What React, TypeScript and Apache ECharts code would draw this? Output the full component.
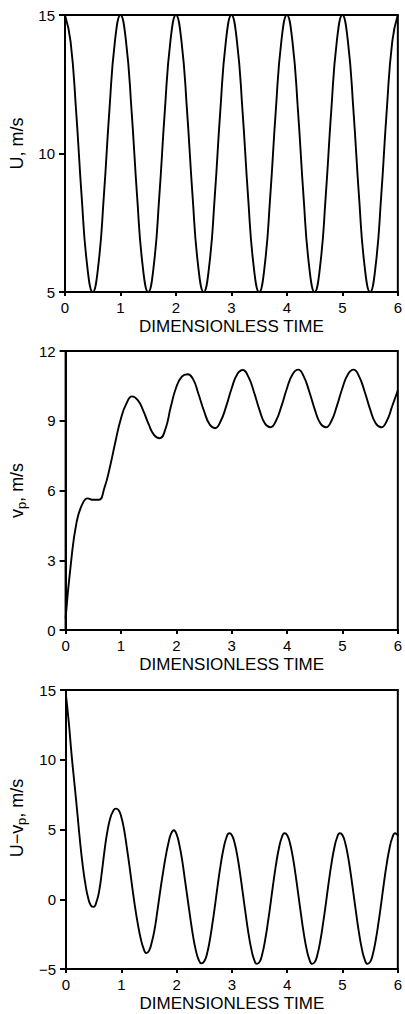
import React, { useEffect, useRef } from "react";
import * as echarts from "echarts";

// ---- data ----
const TIME_TICKS = [0, 1, 2, 3, 4, 5, 6];
const U_TICKS = [5, 10, 15];
const VP_TICKS = [0, 3, 6, 9, 12];
const DIFF_TICKS = [-5, 0, 5, 10, 15];

const TIME_COARSE = [
  0, 0.1, 0.2, 0.3, 0.4, 0.5, 0.6, 0.7, 0.8, 0.9,
  1, 1.1, 1.2, 1.3, 1.4, 1.5, 1.6, 1.7, 1.8, 1.9,
  2, 2.1, 2.2, 2.3, 2.4, 2.5, 2.6, 2.7, 2.8, 2.9,
  3, 3.1, 3.2, 3.3, 3.4, 3.5, 3.6, 3.7, 3.8, 3.9,
  4, 4.1, 4.2, 4.3, 4.4, 4.5, 4.6, 4.7, 4.8, 4.9,
  5, 5.1, 5.2, 5.3, 5.4, 5.5, 5.6, 5.7, 5.8, 5.9,
  6,
];

const TIME_FINE = [
  0, 0.05, 0.1, 0.15, 0.2, 0.25, 0.3, 0.35, 0.4, 0.45,
  0.5, 0.55, 0.6, 0.65, 0.7, 0.75, 0.8, 0.85, 0.9, 0.95,
  1, 1.05, 1.1, 1.15, 1.2, 1.25, 1.3, 1.35, 1.4, 1.45,
  1.5, 1.55, 1.6, 1.65, 1.7, 1.75, 1.8, 1.85, 1.9, 1.95,
  2, 2.05, 2.1, 2.15, 2.2, 2.25, 2.3, 2.35, 2.4, 2.45,
  2.5, 2.55, 2.6, 2.65, 2.7, 2.75, 2.8, 2.85, 2.9, 2.95,
  3, 3.05, 3.1, 3.15, 3.2, 3.25, 3.3, 3.35, 3.4, 3.45,
  3.5, 3.55, 3.6, 3.65, 3.7, 3.75, 3.8, 3.85, 3.9, 3.95,
  4, 4.05, 4.1, 4.15, 4.2, 4.25, 4.3, 4.35, 4.4, 4.45,
  4.5, 4.55, 4.6, 4.65, 4.7, 4.75, 4.8, 4.85, 4.9, 4.95,
  5, 5.05, 5.1, 5.15, 5.2, 5.25, 5.3, 5.35, 5.4, 5.45,
  5.5, 5.55, 5.6, 5.65, 5.7, 5.75, 5.8, 5.85, 5.9, 5.95,
  6,
];

// U, m/s (on TIME_COARSE)
const U_VALUES = [
  15, 14.05, 11.55, 8.45, 5.95, 5, 5.95, 8.45, 11.55, 14.05,
  15, 14.05, 11.55, 8.45, 5.95, 5, 5.95, 8.45, 11.55, 14.05,
  15, 14.05, 11.55, 8.45, 5.95, 5, 5.95, 8.45, 11.55, 14.05,
  15, 14.05, 11.55, 8.45, 5.95, 5, 5.95, 8.45, 11.55, 14.05,
  15, 14.05, 11.55, 8.45, 5.95, 5, 5.95, 8.45, 11.55, 14.05,
  15, 14.05, 11.55, 8.45, 5.95, 5, 5.95, 8.45, 11.55, 14.05,
  15,
];

// vp, m/s (on TIME_COARSE)
const VP_VALUES = [
  0.5, 2.95, 4.65, 5.4, 5.66, 5.6, 5.6, 6.1, 7.0, 8.1,
  9.1, 9.75, 10.05, 9.9, 9.45, 8.85, 8.38, 8.25, 8.62, 9.6,
  10.45, 10.9, 11.0, 10.8, 10.15, 9.42, 8.85, 8.68, 8.98, 9.62,
  10.4, 11.0, 11.18, 10.9, 10.25, 9.48, 8.88, 8.72, 9.0, 9.64,
  10.41, 11.0, 11.2, 10.91, 10.26, 9.49, 8.89, 8.72, 8.99, 9.64,
  10.41, 11.0, 11.2, 10.91, 10.26, 9.49, 8.89, 8.72, 8.99, 9.64,
  10.3,
];

// U - vp, m/s (on TIME_FINE)
const DIFF_VALUES = [
  14.6, 12.7, 10.4, 8.4, 6.4, 4.3, 2.5, 1.1, 0.1, -0.45,
  -0.55, -0.2, 0.6, 2.0, 3.6, 4.9, 5.8, 6.3, 6.5, 6.4,
  5.9, 5.0, 3.7, 2.3, 0.8, -0.6, -1.8, -2.8, -3.5, -3.85,
  -3.7, -3.1, -2.2, -0.9, 0.5, 1.8, 3.0, 4.0, 4.7, 4.95,
  4.65, 3.9, 2.8, 1.4, 0.0, -1.4, -2.7, -3.7, -4.35, -4.6,
  -4.45, -3.9, -2.94, -1.68, -0.27, 1.21, 2.56, 3.66, 4.41, 4.73,
  4.59, 4.01, 3.05, 1.78, 0.35, -1.11, -2.46, -3.56, -4.31, -4.63,
  -4.49, -3.91, -2.94, -1.68, -0.27, 1.21, 2.56, 3.66, 4.41, 4.73,
  4.59, 4.01, 3.05, 1.78, 0.35, -1.11, -2.46, -3.56, -4.31, -4.63,
  -4.49, -3.91, -2.94, -1.68, -0.27, 1.21, 2.56, 3.66, 4.41, 4.73,
  4.59, 4.01, 3.05, 1.78, 0.35, -1.11, -2.46, -3.56, -4.31, -4.63,
  -4.49, -3.91, -2.94, -1.68, -0.27, 1.21, 2.56, 3.66, 4.41, 4.73,
  4.59,
];

const X_TITLE = "DIMENSIONLESS TIME";

// ---- styling ----
const FONT = "'Liberation Sans', Arial, sans-serif";
const BLACK = "#000";

function fmt(v: number) {
  return v < 0 ? "\u2212" + Math.abs(v) : String(v);
}

function xAxisFor(gridIndex: number) {
  return {
    type: "value",
    gridIndex,
    min: TIME_TICKS[0],
    max: TIME_TICKS[TIME_TICKS.length - 1],
    interval: TIME_TICKS[1] - TIME_TICKS[0],
    name: X_TITLE,
    nameLocation: "middle",
    nameGap: 26,
    nameTextStyle: { color: BLACK, fontFamily: FONT, fontSize: 17 },
    axisLine: { show: true, onZero: false, lineStyle: { color: BLACK, width: 2 } },
    axisTick: { show: true, inside: false, length: 4, lineStyle: { color: BLACK, width: 2 } },
    axisLabel: { color: BLACK, fontFamily: FONT, fontSize: 15, margin: 8, formatter: fmt },
    splitLine: { show: false },
  };
}

function yAxisFor(gridIndex: number, ticks: number[], name: string, nameGap: number, shift: number) {
  return {
    type: "value",
    gridIndex,
    min: ticks[0],
    max: ticks[ticks.length - 1],
    interval: ticks[1] - ticks[0],
    name,
    nameLocation: "middle",
    nameGap,
    nameTextStyle: {
      color: BLACK,
      fontFamily: FONT,
      fontSize: 18,
      padding: [0, 0, 0, shift],
      rich: {
        n: { color: BLACK, fontFamily: FONT, fontSize: 18, lineHeight: 22 },
        s: { color: BLACK, fontFamily: FONT, fontSize: 13, lineHeight: 22, verticalAlign: "bottom" },
      },
    },
    axisLine: { show: true, onZero: false, lineStyle: { color: BLACK, width: 2 } },
    axisTick: { show: true, inside: false, length: 6, lineStyle: { color: BLACK, width: 2 } },
    axisLabel: { color: BLACK, fontFamily: FONT, fontSize: 15, margin: 10, formatter: fmt },
    splitLine: { show: false },
  };
}

function lineSeries(idx: number, times: number[], values: number[]) {
  return {
    type: "line",
    xAxisIndex: idx,
    yAxisIndex: idx,
    data: times.map((t, i) => [t, values[i]]),
    showSymbol: false,
    smooth: true,
    clip: true,
    lineStyle: { color: BLACK, width: 1.9 },
  };
}

export default function App() {
  const ref = useRef<HTMLDivElement>(null);
  useEffect(() => {
    document.body.style.margin = "0";
    const chart = echarts.init(ref.current as HTMLDivElement, null, { renderer: "svg" });
    const gridBase = { left: 65, width: 336, show: true, borderColor: BLACK, borderWidth: 2, backgroundColor: "transparent" };
    chart.setOption({
      animation: false,
      backgroundColor: "#fff",
      grid: [
        { ...gridBase, top: 15, height: 277 },
        { ...gridBase, top: 351, height: 279 },
        { ...gridBase, top: 690, height: 279 },
      ],
      xAxis: [xAxisFor(0), xAxisFor(1), xAxisFor(2)],
      yAxis: [
        yAxisFor(0, U_TICKS, "{n|U, m/s}", 37, 20),
        yAxisFor(1, VP_TICKS, "{n|v}{s|p}{n|, m/s}", 28, 0),
        yAxisFor(2, DIFF_TICKS, "{n|U\u2212v}{s|p}{n|, m/s}", 36, 23),
      ],
      series: [
        lineSeries(0, TIME_COARSE, U_VALUES),
        lineSeries(1, TIME_COARSE, VP_VALUES),
        lineSeries(2, TIME_FINE, DIFF_VALUES),
      ],
    });
    return () => chart.dispose();
  }, []);
  return (
    <div
      ref={ref}
      style={{ position: "absolute", left: 0, top: 0, width: 405, height: 1014, background: "#fff" }}
    />
  );
}
